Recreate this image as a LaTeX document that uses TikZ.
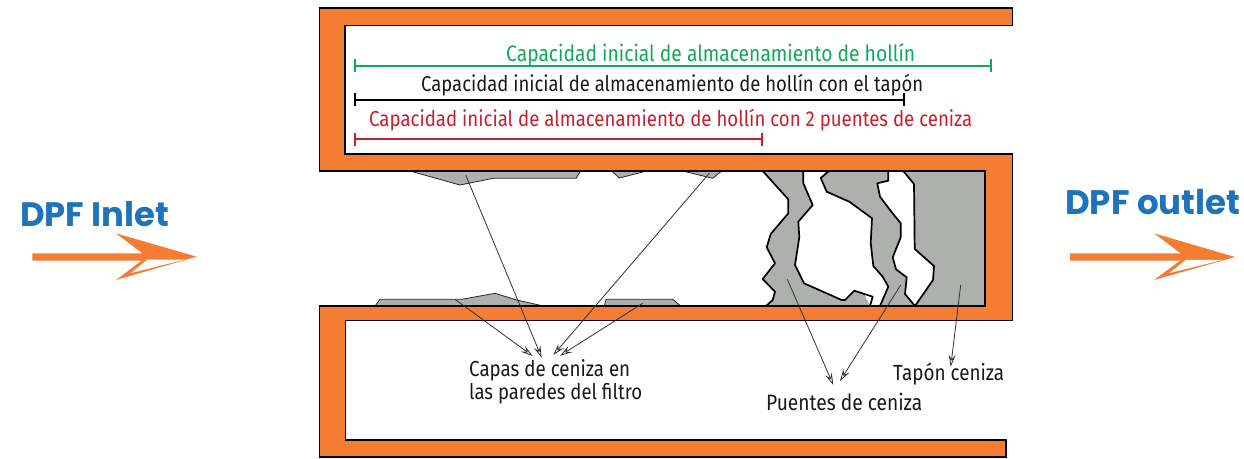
\documentclass[tikz,border=0pt]{standalone}
\usepackage{fontspec}
\usepackage{graphicx}
\setmainfont{Fira Sans}
\newfontfamily\headfont{Poppins}
\usetikzlibrary{arrows.meta}
\definecolor{wallorange}{HTML}{F57D33}
\definecolor{ashgray}{HTML}{AEB0AE}
\definecolor{headblue}{HTML}{1E73BA}
\definecolor{capgreen}{HTML}{12A85A}
\definecolor{capred}{HTML}{C4202F}
\newcommand{\fitw}[2]{\scalebox{1}[1.16]{\resizebox{#1pt}{!}{#2}}}
\newcommand{\fith}[2]{\resizebox{#1pt}{!}{#2}}
\tikzset{
  wall/.style={fill=wallorange,draw=black,line width=1.5pt,line join=miter},
  ashedge/.style={draw=black,line width=1.7pt,line join=round},
  film/.style={fill=ashgray,draw=black!85,line width=0.8pt},
  leader/.style={draw=black!80,line width=0.8pt,-{Stealth[length=12pt,width=7pt,inset=4.5pt,fill=white]}},
  dimline/.style={line width=2pt,{Bar[width=13pt,line width=2pt]}-{Bar[width=13pt,line width=2pt]}},
  lbl/.style={inner sep=0pt,anchor=base west,font=\fontsize{18}{20}\selectfont,text=black!90},
  captext/.style={inner sep=0pt,anchor=base west,font=\fontsize{18}{20}\selectfont},
  headlbl/.style={inner sep=0pt,anchor=base west,text=headblue,font=\headfont\bfseries\fontsize{30}{32}\selectfont},
  flowfill/.style={fill=wallorange,draw=none},
}
\begin{document}
\begin{tikzpicture}[x=1pt,y=-1pt]
\useasboundingbox (0,0) rectangle (1244,458);
% ash plug and bridges
\fill[ashgray] (903.3,171) -- (914,184) -- (914.7,249) -- (934,266) -- (933,280) -- (915,306) -- (985,306) -- (985,171) -- cycle;
\draw[ashedge] (903.3,171) -- (914,184) -- (914.7,249) -- (934,266) -- (933,280) -- (915,306);
% bridge 2
\fill[ashgray] (829,171) -- (820.7,178) -- (826.7,191.7) -- (849.3,201.7) -- (872,218.3) -- (870.7,243) -- (873.3,266) -- (882.7,276.7) -- (888.3,286.7) -- (880,306) -- (915,306) -- (905,294) -- (906.7,277.3) -- (896,269.3) -- (892.7,257.3) -- (900.7,237.3) -- (900.7,223.3) -- (890,210) -- (880,196.7) -- (877.3,183.3) -- (888.3,180.7) -- (888.3,171) -- cycle;
\draw[ashedge] (829,171) -- (820.7,178) -- (826.7,191.7) -- (849.3,201.7) -- (872,218.3) -- (870.7,243) -- (873.3,266) -- (882.7,276.7) -- (888.3,286.7) -- (880,306);
\draw[ashedge] (915,306) -- (905,294) -- (906.7,277.3) -- (896,269.3) -- (892.7,257.3) -- (900.7,237.3) -- (900.7,223.3) -- (890,210) -- (880,196.7) -- (877.3,183.3) -- (888.3,180.7) -- (888.3,171);
% bridge 1
\fill[ashgray] (762.7,171) -- (788.3,199.3) -- (788.3,213.3) -- (770.7,234) -- (766.7,247.3) -- (775,263.3) -- (762.7,279) -- (775,291.7) -- (772.7,300) -- (766,306) -- (870,306) -- (872.7,296.7) -- (854.3,290.7) -- (845,300) -- (841.7,300) -- (804,283.3) -- (795,265) -- (799.3,237.3) -- (798.3,221.7) -- (812.7,205) -- (803.3,183.3) -- (803.3,171) -- cycle;
\fill[white] (865,295) -- (872,297) -- (870,306) -- cycle;
\draw[ashedge] (762.7,171) -- (788.3,199.3) -- (788.3,213.3) -- (770.7,234) -- (766.7,247.3) -- (775,263.3) -- (762.7,279) -- (775,291.7) -- (772.7,300) -- (766,306);
\draw[ashedge] (803.3,171) -- (803.3,183.3) -- (812.7,205) -- (798.3,221.7) -- (799.3,237.3) -- (795,265) -- (804,283.3) -- (841.7,300) -- (845,300) -- (854.3,290.7) -- (872.7,296.7) -- (870,306);
% thin ash films
\draw[film] (410,171) -- (460,185) -- (493.3,178.3) -- (576,178.3) -- (580.7,171);
\draw[film] (611.7,171) -- (619.3,178) -- (646.7,171);
\draw[film] (682.7,171) -- (712.7,178.3) -- (721.7,171);
\draw[film] (375,306) -- (380,299.3) -- (461.7,299.3) -- (495,293.3) -- (516.7,300) -- (543.3,306);
\draw[film] (604.3,306) -- (606,299.3) -- (672.7,299.3) -- (680.7,306);
% filter walls
\draw[wall] (319.5,8) -- (1012.5,8) -- (1012.5,25.5) -- (345,25.5) -- (345,154) -- (1012.5,154) -- (1012.5,320.5) -- (345.5,320.5) -- (345.5,440) -- (1006,440) -- (1006,457) -- (319.5,457) -- (319.5,306) -- (985,306) -- (985,171) -- (319.5,171) -- cycle;
% capacity bars
\coordinate (gA) at (353.5,65.5); \coordinate (gB) at (991.5,65.5);
\coordinate (kA) at (353.5,99.5); \coordinate (kB) at (904.5,99.5);
\coordinate (rA) at (353.5,139); \coordinate (rB) at (762.5,139);
\draw[dimline,capgreen] (gA) -- (gB);
\draw[dimline,black] (kA) -- (kB);
\draw[dimline,capred] (rA) -- (rB);
\node[captext,text=capgreen] (capg) at (506,61) {\fitw{409}{Capacidad inicial de almacenamiento de hollín}};
\node[captext,text=black!90] (capk) at (421,91.5) {\fitw{502}{Capacidad inicial de almacenamiento de hollín con el tapón}};
\node[captext,text=capred] (capr) at (369,126.5) {\fitw{603}{Capacidad inicial de almacenamiento de hollín con 2 puentes de ceniza}};
% labels
\node[lbl] (capas1) at (469,376) {\fitw{161}{Capas de ceniza en}};
\node[lbl] (capas2) at (469,399) {\fitw{173}{las paredes del filtro}};
\node[lbl] (puentes) at (766,410) {\fitw{156}{Puentes de ceniza}};
\node[lbl] (tapon) at (893,380) {\fitw{111}{Tapón ceniza}};
% leaders
\coordinate (a1) at (465.7,175); \coordinate (a1e) at (541.7,357.7);
\coordinate (a2) at (709.3,173.3); \coordinate (a2e) at (553.3,355);
\coordinate (a3) at (455,299.3); \coordinate (a3e) at (532.7,356);
\coordinate (a4) at (642.7,303.3); \coordinate (a4e) at (560,355.7);
\coordinate (b1) at (787.3,279.3); \coordinate (b1e) at (833.3,385);
\coordinate (b2) at (900.7,285); \coordinate (b2e) at (840,381);
\coordinate (c1) at (960.7,285); \coordinate (c1e) at (950.7,366.7);
\draw[leader] (a1) -- (a1e);
\draw[leader] (a2) -- (a2e);
\draw[leader] (a3) -- (a3e);
\draw[leader] (a4) -- (a4e);
\draw[leader] (b1) -- (b1e);
\draw[leader] (b2) -- (b2e);
\draw[leader] (c1) -- (c1e);
% flow labels
\node[headlbl] (inlet) at (20,226) {\fith{149}{DPF Inlet}};
\node[headlbl] (outlet) at (1065,214) {\fith{175}{DPF outlet}};
% flow arrows
\fill[flowfill] (32.3,253.3) -- (142.3,253.3) -- (116,233.3) -- (196.7,256.7) -- (116,280) -- (146.7,256.7) -- (141,260.7) -- (32.3,260.7) -- cycle;
\fill[white] (147.5,259.5) -- (131,273) -- (185,259.5) -- cycle;
\fill[flowfill] (1070,253.3) -- (1180.6,253.3) -- (1154,233.3) -- (1235,257) -- (1154,280) -- (1185,257) -- (1179.5,260.7) -- (1070,260.7) -- cycle;
\fill[white] (1186,259.8) -- (1169.5,273) -- (1223,259.8) -- cycle;
\end{tikzpicture}
\end{document}
